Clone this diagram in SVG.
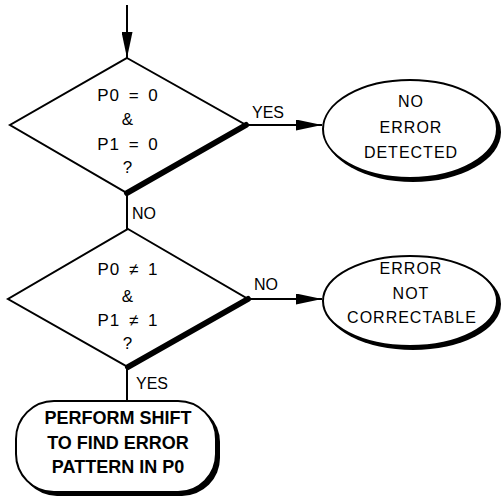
<svg xmlns="http://www.w3.org/2000/svg" width="501" height="501" viewBox="0 0 501 501">
<defs>
<marker id="ah" markerWidth="26" markerHeight="11" refX="26" refY="5.5" orient="auto" markerUnits="userSpaceOnUse">
<path d="M0,0 L26,5.5 L0,11 Z" fill="#000"/>
</marker>
</defs>
<style>
.ln{stroke:#000;stroke-width:2;fill:none}
.sh{fill:#000}
.bx{fill:#fff;stroke:#000;stroke-width:2}
.t{font-family:"Liberation Sans",Arial,sans-serif;font-size:16px;fill:#000;text-anchor:middle;dominant-baseline:central;letter-spacing:1px}
.d{font-size:17px}
.b{font-weight:bold;font-size:18px;letter-spacing:0}
.lb{font-family:"Liberation Sans",Arial,sans-serif;font-size:16px;fill:#000;dominant-baseline:central}
</style>
<rect width="501" height="501" fill="#fff"/>
<g id="connectors">
<line class="ln" x1="127" y1="5" x2="127" y2="58" marker-end="url(#ah)"/>
<line class="ln" x1="247" y1="125" x2="322" y2="125" marker-end="url(#ah)"/>
<text class="lb" x="252" y="112">YES</text>
<line class="ln" x1="127" y1="193" x2="127" y2="229"/>
<text class="lb" x="132" y="213">NO</text>
<line class="ln" x1="248" y1="299" x2="322" y2="299" marker-end="url(#ah)"/>
<text class="lb" x="254" y="284">NO</text>
<line class="ln" x1="127" y1="367" x2="127" y2="401"/>
<text class="lb" x="136" y="383">YES</text>
</g>
<g id="d1">
<polygon class="bx" points="127,58 246,125 127,193 10,125"/>
<line x1="246" y1="125" x2="127" y2="193" stroke="#000" stroke-width="6" stroke-linecap="round"/>
<text class="t d" x="128" y="95" word-spacing="3">P0 = 0</text>
<text class="t d" x="128" y="119">&amp;</text>
<text class="t d" x="128" y="144" word-spacing="3">P1 = 0</text>
<text class="t d" x="128" y="167">?</text>
</g>
<g id="d2">
<polygon class="bx" points="128,229 248,299 128,367 8,299"/>
<line x1="248" y1="299" x2="128" y2="367" stroke="#000" stroke-width="6" stroke-linecap="round"/>
<text class="t d" x="128" y="269" word-spacing="3">P0 ≠ 1</text>
<text class="t d" x="128" y="296">&amp;</text>
<text class="t d" x="128" y="320" word-spacing="3">P1 ≠ 1</text>
<text class="t d" x="128" y="343">?</text>
</g>
<g id="e1">
<ellipse class="sh" cx="413" cy="132" rx="88" ry="50"/>
<ellipse class="bx" cx="410" cy="129" rx="87" ry="49"/>
<text class="t" x="411" y="101">NO</text>
<text class="t" x="411" y="127">ERROR</text>
<text class="t" x="411" y="152" letter-spacing="1.8">DETECTED</text>
</g>
<g id="e2">
<ellipse class="sh" cx="413" cy="304" rx="88" ry="46"/>
<ellipse class="bx" cx="410" cy="301" rx="87" ry="45"/>
<text class="t" x="411" y="268">ERROR</text>
<text class="t" x="411" y="293">NOT</text>
<text class="t" x="412" y="317" letter-spacing="0.8">CORRECTABLE</text>
</g>
<g id="r1">
<rect class="sh" x="19" y="404" width="201" height="92" rx="38" ry="38"/>
<rect class="bx" x="16" y="401" width="200" height="91" rx="38" ry="38"/>
<text class="t b" x="118" y="418">PERFORM SHIFT</text>
<text class="t b" x="118" y="443">TO FIND ERROR</text>
<text class="t b" x="118" y="467">PATTERN IN P0</text>
</g>
</svg>
